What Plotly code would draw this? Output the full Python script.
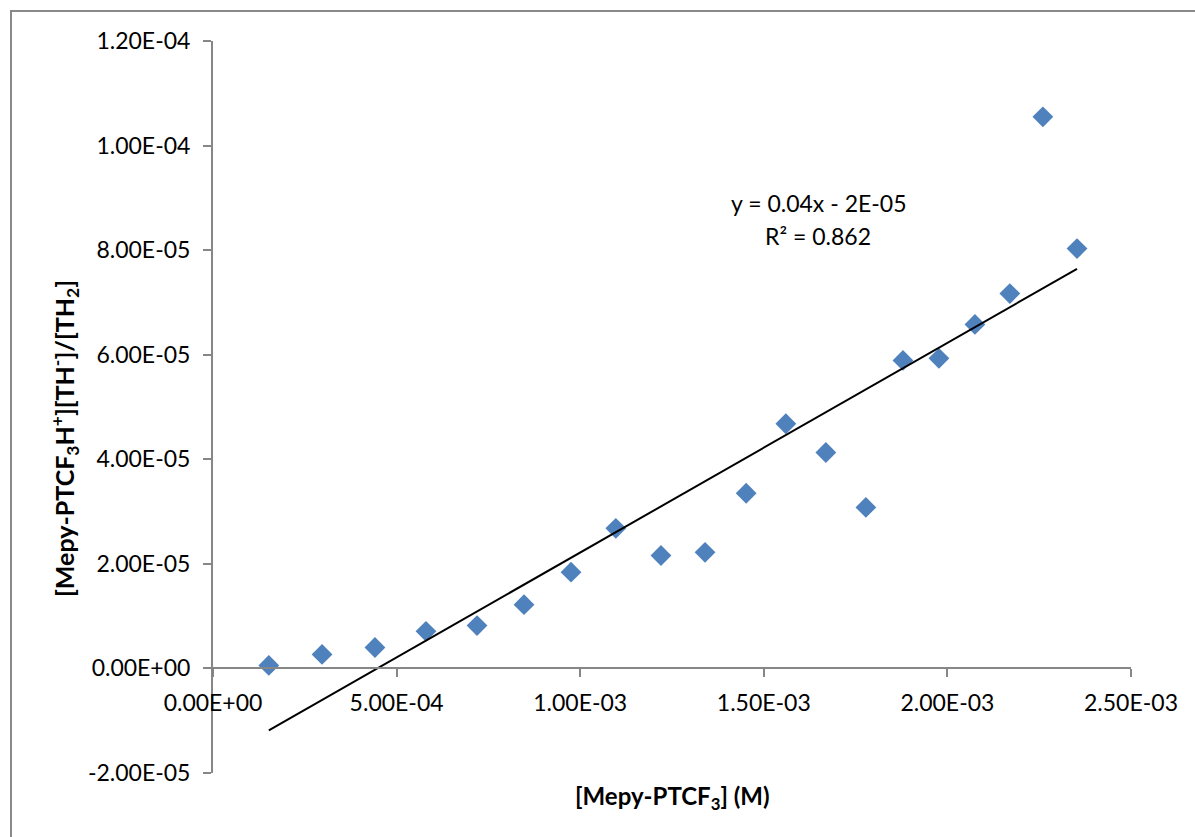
import numpy as np
import plotly.graph_objects as go

# Data
conc_M = [1.52e-4, 2.97e-4, 4.41e-4, 5.80e-4, 7.19e-4, 8.47e-4, 9.75e-4, 1.097e-3,
          1.220e-3, 1.340e-3, 1.452e-3, 1.560e-3, 1.669e-3, 1.778e-3, 1.879e-3,
          1.977e-3, 2.075e-3, 2.170e-3, 2.260e-3, 2.353e-3]
ratio = [0.57e-6, 2.68e-6, 4.0e-6, 7.1e-6, 8.2e-6, 12.2e-6, 18.4e-6, 26.8e-6,
         21.6e-6, 22.2e-6, 33.5e-6, 46.8e-6, 41.3e-6, 30.8e-6, 58.9e-6,
         59.3e-6, 65.8e-6, 71.7e-6, 105.5e-6, 80.3e-6]

x_tickvals = [0, 5e-4, 1e-3, 1.5e-3, 2e-3, 2.5e-3]
x_ticktext = ["0.00E+00", "5.00E-04", "1.00E-03", "1.50E-03", "2.00E-03", "2.50E-03"]
y_tickvals = [-2e-5, 0, 2e-5, 4e-5, 6e-5, 8e-5, 1e-4, 1.2e-4]
y_ticktext = ["-2.00E-05", "0.00E+00", "2.00E-05", "4.00E-05", "6.00E-05",
              "8.00E-05", "1.00E-04", "1.20E-04"]

eq_text = "y = 0.04x - 2E-05"
r2_text = "R² = 0.862"

# Linear trendline from the data
slope, intercept = np.polyfit(conc_M, ratio, 1)
tx = np.array([min(conc_M), max(conc_M)])
ty = slope * tx + intercept

FONT = "Lato"
AXIS_COLOR = "#868686"

fig = go.Figure()
fig.add_trace(go.Scatter(
    x=conc_M, y=ratio, mode="markers",
    marker=dict(symbol="diamond", size=16, color="#4F81BD", line=dict(width=0)),
    showlegend=False, hoverinfo="skip"))
fig.add_trace(go.Scatter(
    x=tx, y=ty, mode="lines", line=dict(color="black", width=2),
    showlegend=False, hoverinfo="skip"))

W, H = 1195, 837
ml, mr, mt, mb = 213, 64, 41, 64
pw, ph = W - ml - mr, H - mt - mb
def px2paper(px, py):
    return (px - ml) / pw, (H - mb - py) / ph

ymin, ymax = -2e-5, 1.2e-4
zero_pos = (0 - ymin) / (ymax - ymin)

fig.update_layout(
    width=W, height=H,
    margin=dict(l=ml, r=mr, t=mt, b=mb),
    paper_bgcolor="white", plot_bgcolor="white",
    font=dict(family=FONT, size=23, color="black"),
    xaxis=dict(range=[0, 2.5e-3], tickvals=x_tickvals, ticktext=x_ticktext,
               showgrid=False, zeroline=False, showline=True, linecolor=AXIS_COLOR,
               linewidth=2, ticks="outside", ticklen=8, tickwidth=2, tickcolor=AXIS_COLOR,
               anchor="free", position=zero_pos, ticklabelstandoff=6,
               tickfont=dict(size=23)),
    yaxis=dict(range=[ymin, ymax], tickvals=y_tickvals, ticktext=y_ticktext,
               showgrid=False, zeroline=False, showline=True, linecolor=AXIS_COLOR,
               linewidth=2, ticks="outside", ticklen=8, tickwidth=2, tickcolor=AXIS_COLOR,
               ticklabelstandoff=8, tickfont=dict(size=23)),
)

# Axis titles
xt, yt = px2paper(672, 797)
fig.add_annotation(xref="paper", yref="paper", x=xt, y=yt,
                   text="<b>[Mepy-PTCF<sub>3</sub>] (M)</b>", showarrow=False,
                   font=dict(size=24), xanchor="center", yanchor="middle")
xt, yt = px2paper(64, 439)
fig.add_annotation(xref="paper", yref="paper", x=xt, y=yt, textangle=-90,
                   text="<b>[Mepy-PTCF<sub>3</sub>H<sup>+</sup>][TH<sup>-</sup>]/[TH<sub>2</sub>]</b>",
                   showarrow=False, font=dict(size=25), xanchor="center", yanchor="middle")

# Trendline labels
xt, yt = px2paper(818, 203)
fig.add_annotation(xref="paper", yref="paper", x=xt, y=yt, text=eq_text,
                   showarrow=False, font=dict(size=23), xanchor="center", yanchor="middle")
xt, yt = px2paper(818, 236)
fig.add_annotation(xref="paper", yref="paper", x=xt, y=yt, text=r2_text,
                   showarrow=False, font=dict(size=23), xanchor="center", yanchor="middle")

# Chart border
bx0, by0 = px2paper(11, 11)
bx1, by1 = px2paper(1300, 900)
fig.add_shape(type="rect", xref="paper", yref="paper", x0=bx0, y0=by1, x1=bx1, y1=by0,
              line=dict(color="#898989", width=2), fillcolor="rgba(0,0,0,0)", layer="below")

fig.write_html("out.html")
